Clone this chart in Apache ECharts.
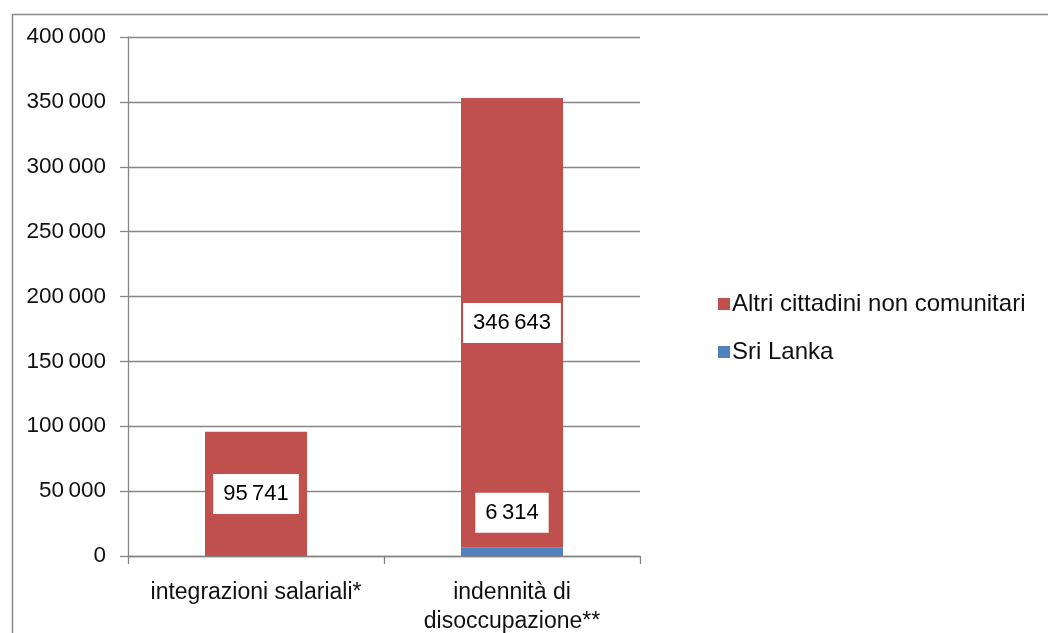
<!DOCTYPE html>
<html>
<head>
<meta charset="utf-8">
<script src="https://cdn.jsdelivr.net/npm/echarts@6/dist/echarts.min.js"></script>
<style>
html,body{margin:0;padding:0;background:#fff;}
#c{width:1048px;height:633px;}
</style>
</head>
<body>
<div id="c"></div>
<script>
const categories = ["integrazioni salariali*", "indennità di\ndisoccupazione**"];
const sriLanka = [null, 6314];
const altri = [95741, 346643];
const seriesNames = ["Sri Lanka", "Altri cittadini non comunitari"];
const yTicks = { min: 0, max: 400000, interval: 50000 };

function fmt(v) {
  return String(Math.round(v)).replace(/\B(?=(\d{3})+(?!\d))/g, "\u2009");
}
const FONT = "Liberation Sans";
const chart = echarts.init(document.getElementById('c'));
const labelBox = {
  show: true,
  backgroundColor: '#ffffff',
  color: '#000000',
  fontFamily: FONT,
  fontSize: 22,
  padding: [9, 10, 9, 10],
  formatter: p => (p.value == null || p.value === 0) ? '' : fmt(p.value)
};
chart.setOption({
  animation: false,
  backgroundColor: '#ffffff',
  textStyle: { fontFamily: FONT },
  graphic: [{
    type: 'rect', left: 10, top: 12, z: 100,
    shape: { width: 1200, height: 800 },
    style: { fill: null, stroke: '#8a8a8a', lineWidth: 1.5 }
  }],
  grid: { left: 128, right: 408, top: 37, bottom: 77, containLabel: false, outerBoundsMode: 'none' },
  legend: {
    orient: 'vertical', left: 713, top: 287,
    data: [seriesNames[1], seriesNames[0]],
    itemWidth: 12, itemHeight: 12, itemGap: 24,
    icon: 'rect',
    textStyle: { fontFamily: FONT, fontSize: 24, color: '#111', padding: [0,0,0,-3] }
  },
  xAxis: {
    type: 'category', data: categories,
    axisLine: { lineStyle: { color: '#868686', width: 1.3 } },
    axisTick: { show: true, length: 8, lineStyle: { color: '#868686', width: 1.3 } },
    axisLabel: { interval: 0, fontFamily: FONT, fontSize: 23, color: '#111', margin: 22, lineHeight: 29 }
  },
  yAxis: {
    type: 'value', min: yTicks.min, max: yTicks.max, interval: yTicks.interval,
    axisLine: { show: true, lineStyle: { color: '#868686', width: 1.3 } },
    axisTick: { show: true, length: 8, lineStyle: { color: '#868686', width: 1.3 } },
    splitLine: { lineStyle: { color: '#868686', width: 1.3 } },
    axisLabel: { fontFamily: FONT, fontSize: 22.5, color: '#111', margin: 22, formatter: v => fmt(v) }
  },
  series: [
    {
      name: seriesNames[0], type: 'bar', stack: 'a', data: sriLanka, barWidth: 102, z: 3,
      itemStyle: { color: '#4F81BD' },
      label: Object.assign({}, labelBox, { position: 'top', distance: 15 })
    },
    {
      name: seriesNames[1], type: 'bar', stack: 'a', data: altri, barWidth: 102, z: 2,
      itemStyle: { color: '#C0504D' },
      label: Object.assign({}, labelBox, { position: 'inside' })
    }
  ]
});
</script>
</body>
</html>
